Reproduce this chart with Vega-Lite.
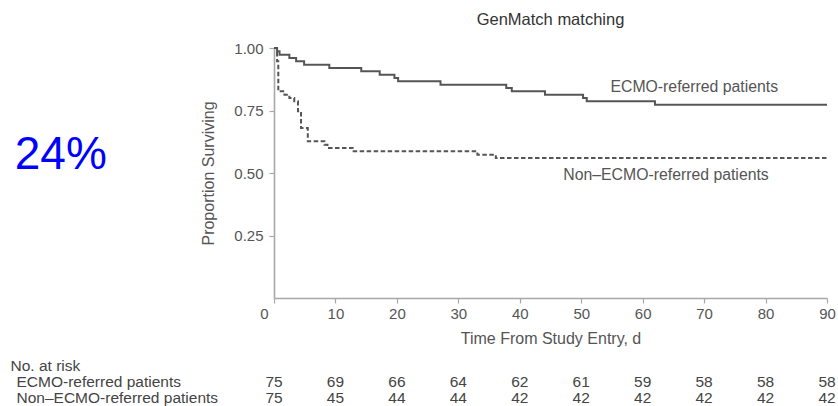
{
  "$schema": "https://vega.github.io/schema/vega-lite/v6.json",
  "width": 553,
  "height": 250,
  "autosize": {"type": "none"},
  "padding": {"left": 274, "top": 48, "right": 11, "bottom": 108},
  "background": "white",
  "config": {
    "view": {"stroke": null},
    "font": "Liberation Sans",
    "axis": {"grid": false, "domainColor": "#a8a8a8", "tickColor": "#a8a8a8", "domainWidth": 1.6, "tickWidth": 1.2, "labelColor": "#555", "titleColor": "#555", "labelFont": "Liberation Sans", "titleFont": "Liberation Sans", "titleFontWeight": "normal"}
  },
  "title": {"text": "GenMatch matching", "fontSize": 16.5, "fontWeight": "normal", "color": "#333", "baseline": "bottom", "offset": -3, "anchor": "middle"},
  "datasets": {
    "curves": [
      {"group": "ECMO-referred patients", "t": 0, "n": 75},
      {"group": "ECMO-referred patients", "t": 0.5, "n": 74},
      {"group": "ECMO-referred patients", "t": 0.9, "n": 73},
      {"group": "ECMO-referred patients", "t": 2.5, "n": 72},
      {"group": "ECMO-referred patients", "t": 3.6, "n": 71},
      {"group": "ECMO-referred patients", "t": 4.9, "n": 70},
      {"group": "ECMO-referred patients", "t": 9.0, "n": 69},
      {"group": "ECMO-referred patients", "t": 14.2, "n": 68},
      {"group": "ECMO-referred patients", "t": 17.2, "n": 67},
      {"group": "ECMO-referred patients", "t": 19.6, "n": 66},
      {"group": "ECMO-referred patients", "t": 20.2, "n": 65},
      {"group": "ECMO-referred patients", "t": 27.1, "n": 64},
      {"group": "ECMO-referred patients", "t": 37.8, "n": 63},
      {"group": "ECMO-referred patients", "t": 38.7, "n": 62},
      {"group": "ECMO-referred patients", "t": 44.1, "n": 61},
      {"group": "ECMO-referred patients", "t": 50.3, "n": 60},
      {"group": "ECMO-referred patients", "t": 50.9, "n": 59},
      {"group": "ECMO-referred patients", "t": 62.0, "n": 58},
      {"group": "ECMO-referred patients", "t": 90, "n": 58},
      {"group": "Non–ECMO-referred patients", "t": 0, "n": 75},
      {"group": "Non–ECMO-referred patients", "t": 0.5, "n": 71},
      {"group": "Non–ECMO-referred patients", "t": 0.7, "n": 62},
      {"group": "Non–ECMO-referred patients", "t": 1.7, "n": 61},
      {"group": "Non–ECMO-referred patients", "t": 2.5, "n": 60},
      {"group": "Non–ECMO-referred patients", "t": 3.3, "n": 59},
      {"group": "Non–ECMO-referred patients", "t": 3.9, "n": 56},
      {"group": "Non–ECMO-referred patients", "t": 4.4, "n": 51},
      {"group": "Non–ECMO-referred patients", "t": 5.5, "n": 47},
      {"group": "Non–ECMO-referred patients", "t": 8.2, "n": 46},
      {"group": "Non–ECMO-referred patients", "t": 8.7, "n": 45},
      {"group": "Non–ECMO-referred patients", "t": 12.8, "n": 44},
      {"group": "Non–ECMO-referred patients", "t": 33.1, "n": 43},
      {"group": "Non–ECMO-referred patients", "t": 36.1, "n": 42},
      {"group": "Non–ECMO-referred patients", "t": 90, "n": 42}
    ],
    "labels": [
      {"label": "ECMO-referred patients", "t": 68.4, "S": 0.844},
      {"label": "Non–ECMO-referred patients", "t": 63.8, "S": 0.492}
    ],
    "risk": [
      {"row": "ECMO-referred patients", "t": 0, "n": 75},
      {"row": "ECMO-referred patients", "t": 10, "n": 69},
      {"row": "ECMO-referred patients", "t": 20, "n": 66},
      {"row": "ECMO-referred patients", "t": 30, "n": 64},
      {"row": "ECMO-referred patients", "t": 40, "n": 62},
      {"row": "ECMO-referred patients", "t": 50, "n": 61},
      {"row": "ECMO-referred patients", "t": 60, "n": 59},
      {"row": "ECMO-referred patients", "t": 70, "n": 58},
      {"row": "ECMO-referred patients", "t": 80, "n": 58},
      {"row": "ECMO-referred patients", "t": 90, "n": 58},
      {"row": "Non–ECMO-referred patients", "t": 0, "n": 75},
      {"row": "Non–ECMO-referred patients", "t": 10, "n": 45},
      {"row": "Non–ECMO-referred patients", "t": 20, "n": 44},
      {"row": "Non–ECMO-referred patients", "t": 30, "n": 44},
      {"row": "Non–ECMO-referred patients", "t": 40, "n": 42},
      {"row": "Non–ECMO-referred patients", "t": 50, "n": 42},
      {"row": "Non–ECMO-referred patients", "t": 60, "n": 42},
      {"row": "Non–ECMO-referred patients", "t": 70, "n": 42},
      {"row": "Non–ECMO-referred patients", "t": 80, "n": 42},
      {"row": "Non–ECMO-referred patients", "t": 90, "n": 42}
    ]
  },
  "layer": [
    {
      "layer": [
        {
          "data": {"name": "curves"},
          "transform": [{"calculate": "datum.n / 75", "as": "S"}],
          "mark": {"type": "line", "interpolate": "step-after", "color": "#555", "strokeWidth": 2},
          "encoding": {
            "x": {"field": "t", "type": "quantitative", "scale": {"domain": [0, 90], "nice": false},
                  "axis": {"values": [0, 10, 20, 30, 40, 50, 60, 70, 80, 90], "tickSize": 5, "labelPadding": 3, "labelFontSize": 15, "title": "Time From Study Entry, d", "titleFontSize": 16, "titlePadding": 9,
                           "labelAlign": {"condition": {"test": "datum.value == 0", "value": "right"}, "value": "center"},
                           "labelOffset": {"condition": {"test": "datum.value == 0", "value": -6}, "value": 0}}},
            "y": {"field": "S", "type": "quantitative", "scale": {"domain": [0, 1], "nice": false},
                  "axis": {"values": [0.25, 0.5, 0.75, 1.0], "format": ".2f", "tickSize": 5, "labelPadding": 6, "labelFontSize": 15, "title": "Proportion Surviving", "titleFontSize": 16, "titlePadding": 17}},
            "strokeDash": {"field": "group", "type": "nominal", "scale": {"domain": ["ECMO-referred patients", "Non–ECMO-referred patients"], "range": [[1, 0], [4.5, 2.5]]}, "legend": null}
          }
        },
        {
          "data": {"name": "labels"},
          "mark": {"type": "text", "align": "center", "baseline": "middle", "fontSize": 15.8, "color": "#555"},
          "encoding": {
            "x": {"field": "t", "type": "quantitative"},
            "y": {"field": "S", "type": "quantitative"},
            "text": {"field": "label"}
          }
        },
        {
          "data": {"values": [{"note": "24%"}]},
          "mark": {"type": "text", "align": "center", "baseline": "middle", "fontSize": 46, "color": "#0000ff"},
          "encoding": {
            "x": {"datum": -34.7, "type": "quantitative"},
            "y": {"datum": 0.572, "type": "quantitative"},
            "text": {"field": "note"}
          }
        }
      ]
    },
    {
      "data": {"name": "risk"},
      "mark": {"type": "text", "align": "center", "baseline": "middle", "fontSize": 15.5, "color": "#444"},
      "encoding": {
        "x": {"field": "t", "type": "quantitative"},
        "y": {"field": "row", "type": "nominal",
              "scale": {"type": "point", "domain": ["No. at risk", "ECMO-referred patients", "Non–ECMO-referred patients"], "range": [317.5, 349.5], "padding": 0},
              "axis": {"orient": "left", "title": null, "domain": false, "ticks": false, "labelAlign": "left", "labelBaseline": "middle", "labelLimit": 400, "labelFontSize": 15.5, "labelColor": "#444",
                       "labelPadding": {"condition": {"test": "datum.value == 'No. at risk'", "value": 264}, "value": 258}}},
        "text": {"field": "n"}
      }
    }
  ],
  "resolve": {"scale": {"y": "independent"}}
}
